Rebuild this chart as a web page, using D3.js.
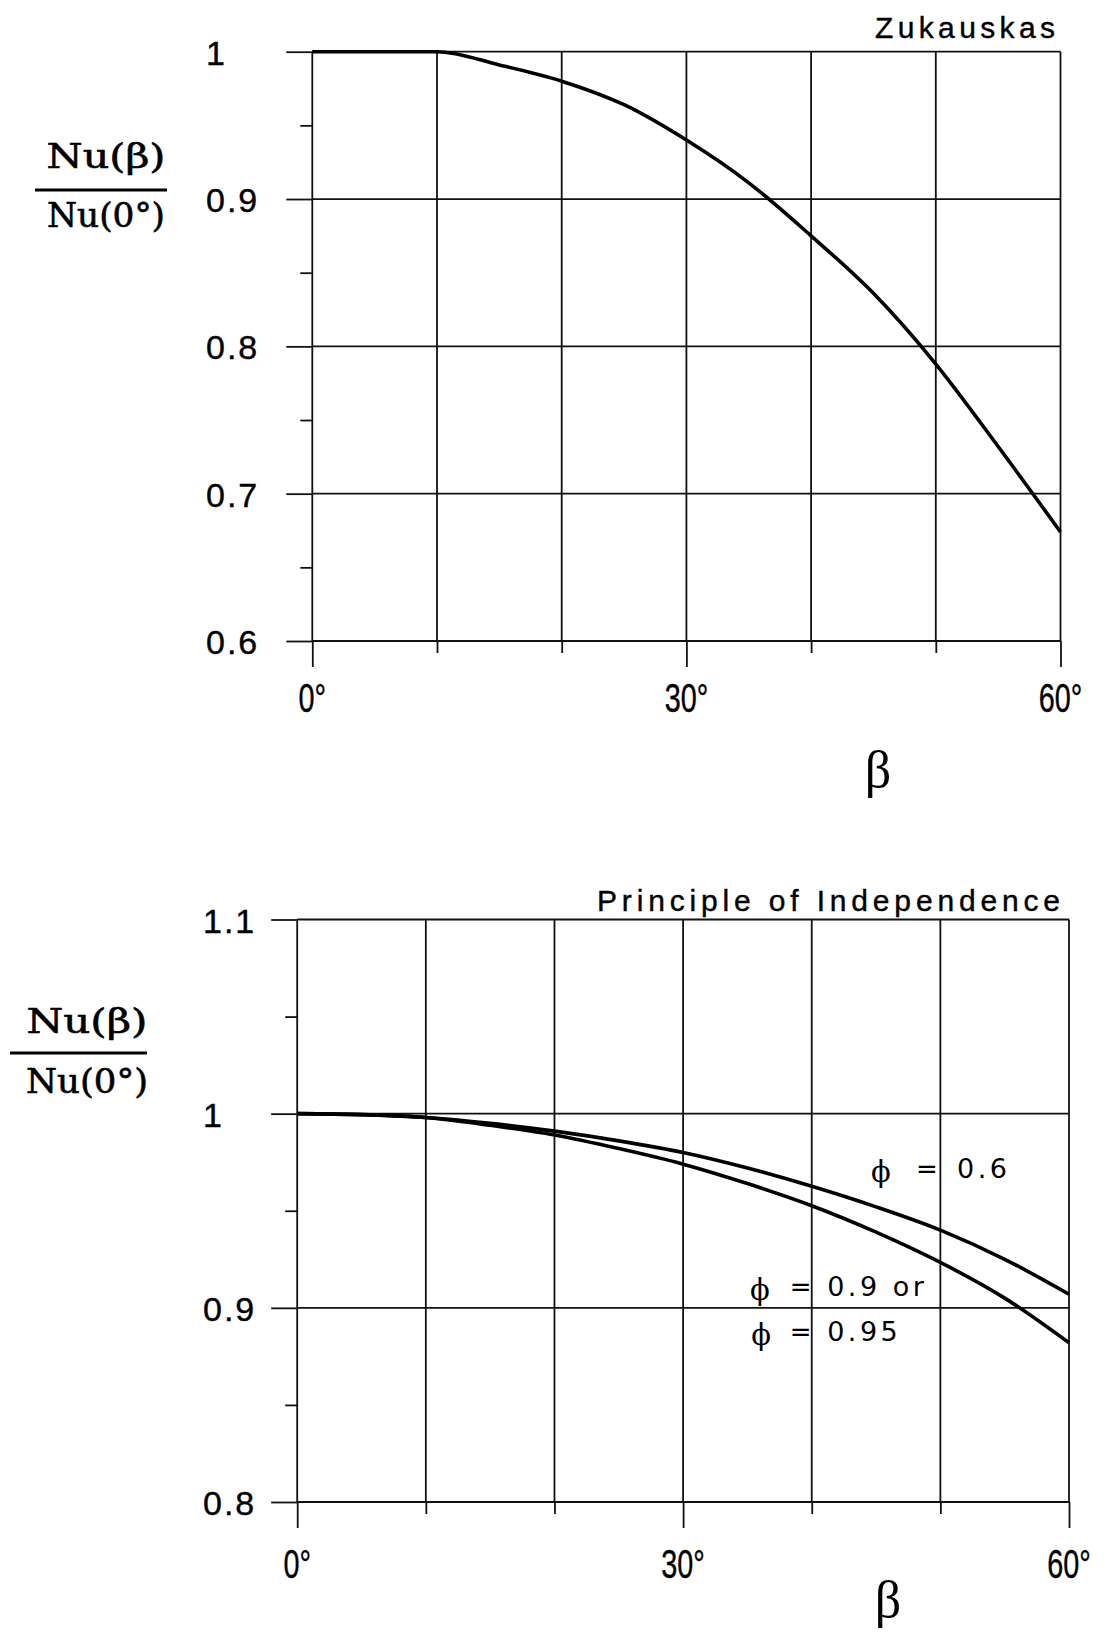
<!DOCTYPE html>
<html>
<head>
<meta charset="utf-8">
<script src="https://cdn.jsdelivr.net/npm/d3@7"></script>
<style>
  body { margin: 0; background: #fff; }
  text { fill: #000; }
</style>
</head>
<body>
<svg id="fig" width="1107" height="1637"></svg>
<script>
// angle of yaw, degrees
const beta = [0, 5, 10, 15, 20, 25, 30, 35, 40, 45, 50, 55, 60];

// Nu(beta)/Nu(0)
const zukauskas = [1, 1, 1, 0.991, 0.980, 0.964, 0.940, 0.911, 0.875, 0.836, 0.788, 0.732, 0.674];
const phi06 = [1, 0.9995, 0.998, 0.995, 0.991, 0.986, 0.980, 0.972, 0.9626, 0.952, 0.940, 0.925, 0.907];
const phi09 = [1, 0.9995, 0.998, 0.994, 0.989, 0.982, 0.974, 0.964, 0.9526, 0.939, 0.9234, 0.905, 0.882];

const xTicks = [0, 10, 20, 30, 40, 50, 60];
const xLabelTicks = [0, 30, 60];
const topYTicks = [0.6, 0.7, 0.8, 0.9, 1];
const topYMinor = [0.65, 0.75, 0.85, 0.95];
const botYTicks = [0.8, 0.9, 1, 1.1];
const botYMinor = [0.85, 0.95, 1.05];

const notes = [
  { phi: 'ϕ', eq: '=', val: '0.6', at: [44.6, 48.1, 51.3], y: 0.9668 },
  { phi: 'ϕ', eq: '=', val: '0.9 or', at: [35.2, 38.3, 41.2], y: 0.9061 },
  { phi: 'ϕ', eq: '=', val: '0.95', at: [35.3, 38.3, 41.2], y: 0.8829 }
];

const svg = d3.select('#fig');

function panel(o) {
  const x = d3.scaleLinear().domain([0, 60]).range([o.left, o.right]);
  const y = d3.scaleLinear().domain(o.yDomain).range([o.bottom, o.top]);
  const g = svg.append('g');

  // grid
  g.selectAll('line.vgrid')
    .data(xTicks)
    .join('line')
    .attr('x1', d => x(d)).attr('x2', d => x(d))
    .attr('y1', o.top).attr('y2', o.bottom)
    .attr('stroke', '#111').attr('stroke-width', 1.8);
  g.selectAll('line.hgrid')
    .data(o.yTicks)
    .join('line')
    .attr('x1', o.left).attr('x2', o.right)
    .attr('y1', d => y(d)).attr('y2', d => y(d))
    .attr('stroke', '#111').attr('stroke-width', 1.8);

  // ticks
  const axisStyle = sel => {
    sel.select('.domain').remove();
    sel.selectAll('line').attr('stroke', '#111').attr('stroke-width', 1.8);
  };
  g.append('g').attr('transform', `translate(${o.left},0)`)
    .call(d3.axisLeft(y).tickValues(o.yTicks).tickSize(26).tickFormat(''))
    .call(axisStyle);
  g.append('g').attr('transform', `translate(${o.left},0)`)
    .call(d3.axisLeft(y).tickValues(o.yMinor).tickSize(12).tickFormat(''))
    .call(axisStyle);
  g.append('g').attr('transform', `translate(0,${o.bottom})`)
    .call(d3.axisBottom(x).tickValues(xLabelTicks).tickSize(26).tickFormat(''))
    .call(axisStyle);
  g.append('g').attr('transform', `translate(0,${o.bottom})`)
    .call(d3.axisBottom(x).tickValues(xTicks.filter(d => !xLabelTicks.includes(d))).tickSize(12).tickFormat(''))
    .call(axisStyle);

  // y tick labels
  g.selectAll('text.ylab')
    .data(o.yTicks)
    .join('text')
    .attr('x', o.yLabelX)
    .attr('y', d => y(d) + 13)
    .attr('font-family', 'Liberation Sans, Arial, sans-serif')
    .attr('font-size', 34)
    .attr('letter-spacing', 2)
    .attr('stroke', '#000').attr('stroke-width', 0.4)
    .text(d => String(d));

  // x tick labels, narrow face
  g.selectAll('text.xlab')
    .data(xLabelTicks)
    .join('text')
    .attr('transform', d => `translate(${x(d)},${o.bottom + o.xLabelDy}) scale(0.72,1)`)
    .attr('text-anchor', 'middle')
    .attr('font-family', 'Liberation Sans, Arial, sans-serif')
    .attr('font-size', 40)
    .attr('stroke', '#000').attr('stroke-width', 0.4)
    .text(d => d + '°');

  // x axis title
  g.append('text')
    .attr('x', o.betaX).attr('y', o.betaY)
    .attr('text-anchor', 'middle')
    .attr('font-family', 'Liberation Serif, Times New Roman, serif')
    .attr('font-size', 52)
    .text('β');

  // panel title
  g.append('text')
    .attr('x', o.titleX).attr('y', o.titleY)
    .attr('font-family', 'Liberation Sans, Arial, sans-serif')
    .attr('font-size', 30)
    .attr('stroke', '#000').attr('stroke-width', 0.4)
    .attr('textLength', o.titleLen)
    .attr('lengthAdjust', 'spacing')
    .text(o.title);

  // y axis title as a fraction
  const f = o.frac;
  g.append('text')
    .attr('x', f.cx).attr('y', f.numY)
    .attr('text-anchor', 'middle')
    .attr('font-family', 'DejaVu Serif, serif')
    .attr('font-size', 33)
    .attr('stroke', '#000').attr('stroke-width', 0.6)
    .attr('textLength', f.numW)
    .attr('lengthAdjust', 'spacingAndGlyphs')
    .text('Nu(β)');
  g.append('line')
    .attr('x1', f.x1).attr('x2', f.x2)
    .attr('y1', f.barY).attr('y2', f.barY)
    .attr('stroke', '#000').attr('stroke-width', 3);
  g.append('text')
    .attr('x', f.cx).attr('y', f.denY)
    .attr('text-anchor', 'middle')
    .attr('font-family', 'DejaVu Serif, serif')
    .attr('font-size', 33)
    .attr('stroke', '#000').attr('stroke-width', 0.6)
    .attr('textLength', f.denW)
    .attr('lengthAdjust', 'spacingAndGlyphs')
    .text('Nu(0°)');

  // curves
  const line = d3.line()
    .x((d, i) => x(beta[i]))
    .y(d => y(d))
    .curve(d3.curveMonotoneX);
  g.selectAll('path.curve')
    .data(o.series)
    .join('path')
    .attr('d', line)
    .attr('fill', 'none')
    .attr('stroke', '#000')
    .attr('stroke-width', 3.6)
    .attr('stroke-linejoin', 'round');

  return { x, y, g };
}

panel({
  left: 312.3, right: 1060.5, top: 51.7, bottom: 641,
  yDomain: [0.6, 1], yTicks: topYTicks, yMinor: topYMinor,
  yLabelX: 206, xLabelDy: 71,
  betaX: 878, betaY: 787,
  title: 'Zukauskas', titleX: 875, titleY: 38, titleLen: 180,
  frac: { cx: 106, numY: 168, denY: 227, barY: 190, x1: 35, x2: 167, numW: 119, denW: 118 },
  series: [zukauskas]
});

const bot = panel({
  left: 297.2, right: 1069, top: 919.5, bottom: 1502,
  yDomain: [0.8, 1.1], yTicks: botYTicks, yMinor: botYMinor,
  yLabelX: 203, xLabelDy: 76,
  betaX: 888, betaY: 1617,
  title: 'Principle of Independence', titleX: 597, titleY: 911, titleLen: 463,
  frac: { cx: 87, numY: 1033, denY: 1093, barY: 1053, x1: 10, x2: 147, numW: 121, denW: 122 },
  series: [phi06, phi09]
});

// curve annotations
notes.forEach(n => {
  const yy = bot.y(n.y);
  bot.g.append('text')
    .attr('x', bot.x(n.at[0])).attr('y', yy + 4)
    .attr('font-family', 'DejaVu Serif, serif')
    .attr('font-size', 29)
    .text(n.phi);
  bot.g.append('text')
    .attr('x', bot.x(n.at[1])).attr('y', yy)
    .attr('font-family', 'DejaVu Sans, sans-serif')
    .attr('font-size', 26)
    .text(n.eq);
  bot.g.append('text')
    .attr('x', bot.x(n.at[2])).attr('y', yy)
    .attr('font-family', 'DejaVu Sans, sans-serif')
    .attr('font-size', 27)
    .attr('letter-spacing', 3.5)
    .text(n.val);
});
</script>
</body>
</html>
